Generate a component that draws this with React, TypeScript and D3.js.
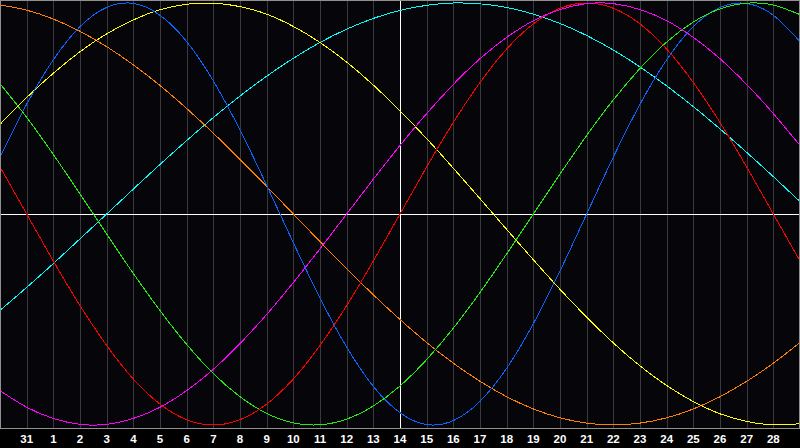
import React from "react";
import * as d3 from "d3";

const dayLabels = ["31","1","2","3","4","5","6","7","8","9","10","11","12","13","14","15","16","17","18","19","20","21","22","23","24","25","26","27","28"];

// values per day index 0..30, in percent (-100..100)
const physical = [27.0, 52.0, 73.1, 88.8, 97.9, 99.8, 94.2, 81.7, 63.1, 39.8, 13.6, -13.6, -39.8, -63.1, -81.7, -94.2, -99.8, -97.9, -88.8, -73.1, -52.0, -27.0, 0, 27.0, 52.0, 73.1, 88.8, 97.9, 99.8, 94.2, 81.7];
const emotional = [22.3, 0, -22.3, -43.4, -62.3, -78.2, -90.1, -97.5, -100, -97.5, -90.1, -78.2, -62.3, -43.4, -22.3, 0, 22.3, 43.4, 62.3, 78.2, 90.1, 97.5, 100, 97.5, 90.1, 78.2, 62.3, 43.4, 22.3, 0, -22.3];
const intellectual = [61.8, 45.8, 28.2, 9.5, -9.5, -28.2, -45.8, -61.8, -75.6, -86.6, -94.5, -99.0, -99.9, -97.2, -91.0, -81.5, -69.0, -54.1, -37.2, -18.9, 0, 18.9, 37.2, 54.1, 69.0, 81.5, 91.0, 97.2, 99.9, 99.0, 94.5];
const intuitive = [-83.7, -91.6, -96.9, -99.7, -99.7, -96.9, -91.6, -83.7, -73.6, -61.4, -47.6, -32.5, -16.5, 0, 16.5, 32.5, 47.6, 61.4, 73.6, 83.7, 91.6, 96.9, 99.7, 99.7, 96.9, 91.6, 83.7, 73.6, 61.4, 47.6, 32.5];
const aesthetic = [42.5, 55.2, 66.7, 76.9, 85.4, 92.0, 96.8, 99.4, 99.9, 98.3, 94.7, 88.9, 81.3, 72.0, 61.1, 48.9, 35.7, 21.7, 7.3, -7.3, -21.7, -35.7, -48.9, -61.1, -72.0, -81.3, -88.9, -94.7, -98.3, -99.9, -99.4];
const awareness = [99.1, 96.6, 92.4, 86.6, 79.3, 70.7, 60.9, 50.0, 38.3, 25.9, 13.1, 0, -13.1, -25.9, -38.3, -50.0, -60.9, -70.7, -79.3, -86.6, -92.4, -96.6, -99.1, -100, -99.1, -96.6, -92.4, -86.6, -79.3, -70.7, -60.9];
const spiritual = [-45.7, -34.8, -23.5, -11.8, 0, 11.8, 23.5, 34.8, 45.7, 55.9, 65.3, 73.8, 81.3, 87.6, 92.7, 96.5, 98.9, 100.0, 99.6, 97.9, 94.7, 90.3, 84.6, 77.7, 69.7, 60.7, 50.9, 40.3, 29.2, 17.7, 5.9];

const seriesList = [
  { name: "spiritual", values: spiritual, color: "#00ffff" },
  { name: "awareness", values: awareness, color: "#ff7f00" },
  { name: "aesthetic", values: aesthetic, color: "#ffff00" },
  { name: "physical", values: physical, color: "#0a64ff" },
  { name: "intellectual", values: intellectual, color: "#22ee11" },
  { name: "emotional", values: emotional, color: "#ff0000" },
  { name: "intuitive", values: intuitive, color: "#ff00ff" },
];

const W = 800;
const H = 448;
const PLOT_BOTTOM = 428;

export default function App() {
  const x = d3.scaleLinear().domain([0, 30]).range([0, 800]);
  const y = d3.scaleLinear().domain([-100, 100]).range([425, 3]);
  const line = d3
    .line<number>()
    .x((_, i) => x(i))
    .y((v) => y(v))
    .curve(d3.curveNatural);

  const centerIdx = 15;
  const y0 = Math.round(y(0)) + 0.5;

  return (
    <svg
      width={W}
      height={H}
      style={{ position: "absolute", left: 0, top: 0, display: "block", background: "#000" }}
    >
      <defs>
        <clipPath id="plotclip">
          <rect x={1} y={1} width={798} height={PLOT_BOTTOM - 1} />
        </clipPath>
      </defs>
      <rect x={0} y={0} width={W} height={H} fill="#000" />
      <rect x={0} y={0} width={W} height={PLOT_BOTTOM} fill="#06060a" />
      {dayLabels.map((d, i) => {
        const k = i + 1;
        const gx = Math.round(x(k)) + 0.5;
        return k === centerIdx ? null : (
          <line key={"g" + k} x1={gx} x2={gx} y1={1} y2={PLOT_BOTTOM} stroke="#3a3a3e" strokeWidth={1} shapeRendering="crispEdges" />
        );
      })}
      <line x1={0} x2={W} y1={y0} y2={y0} stroke="#ffffff" strokeWidth={1} shapeRendering="crispEdges" />
      <line x1={Math.round(x(centerIdx)) + 0.5} x2={Math.round(x(centerIdx)) + 0.5} y1={1} y2={PLOT_BOTTOM} stroke="#ffffff" strokeWidth={1} shapeRendering="crispEdges" />
      <g clipPath="url(#plotclip)">
        {seriesList.map((s) => (
          <path key={s.name} d={line(s.values) || ""} fill="none" stroke={s.color} strokeWidth={1} shapeRendering="crispEdges" />
        ))}
      </g>
      <rect x={0.5} y={0.5} width={799} height={PLOT_BOTTOM} fill="none" stroke="#909090" strokeWidth={1} shapeRendering="crispEdges" />
      {dayLabels.map((d, i) => (
        <text
          key={"t" + i}
          x={x(i + 1)}
          y={443}
          textAnchor="middle"
          fill="#ffffff"
          fontFamily="'Liberation Sans', Arial, sans-serif"
          fontWeight="bold"
          fontSize={11.5}
        >
          {d}
        </text>
      ))}
    </svg>
  );
}
